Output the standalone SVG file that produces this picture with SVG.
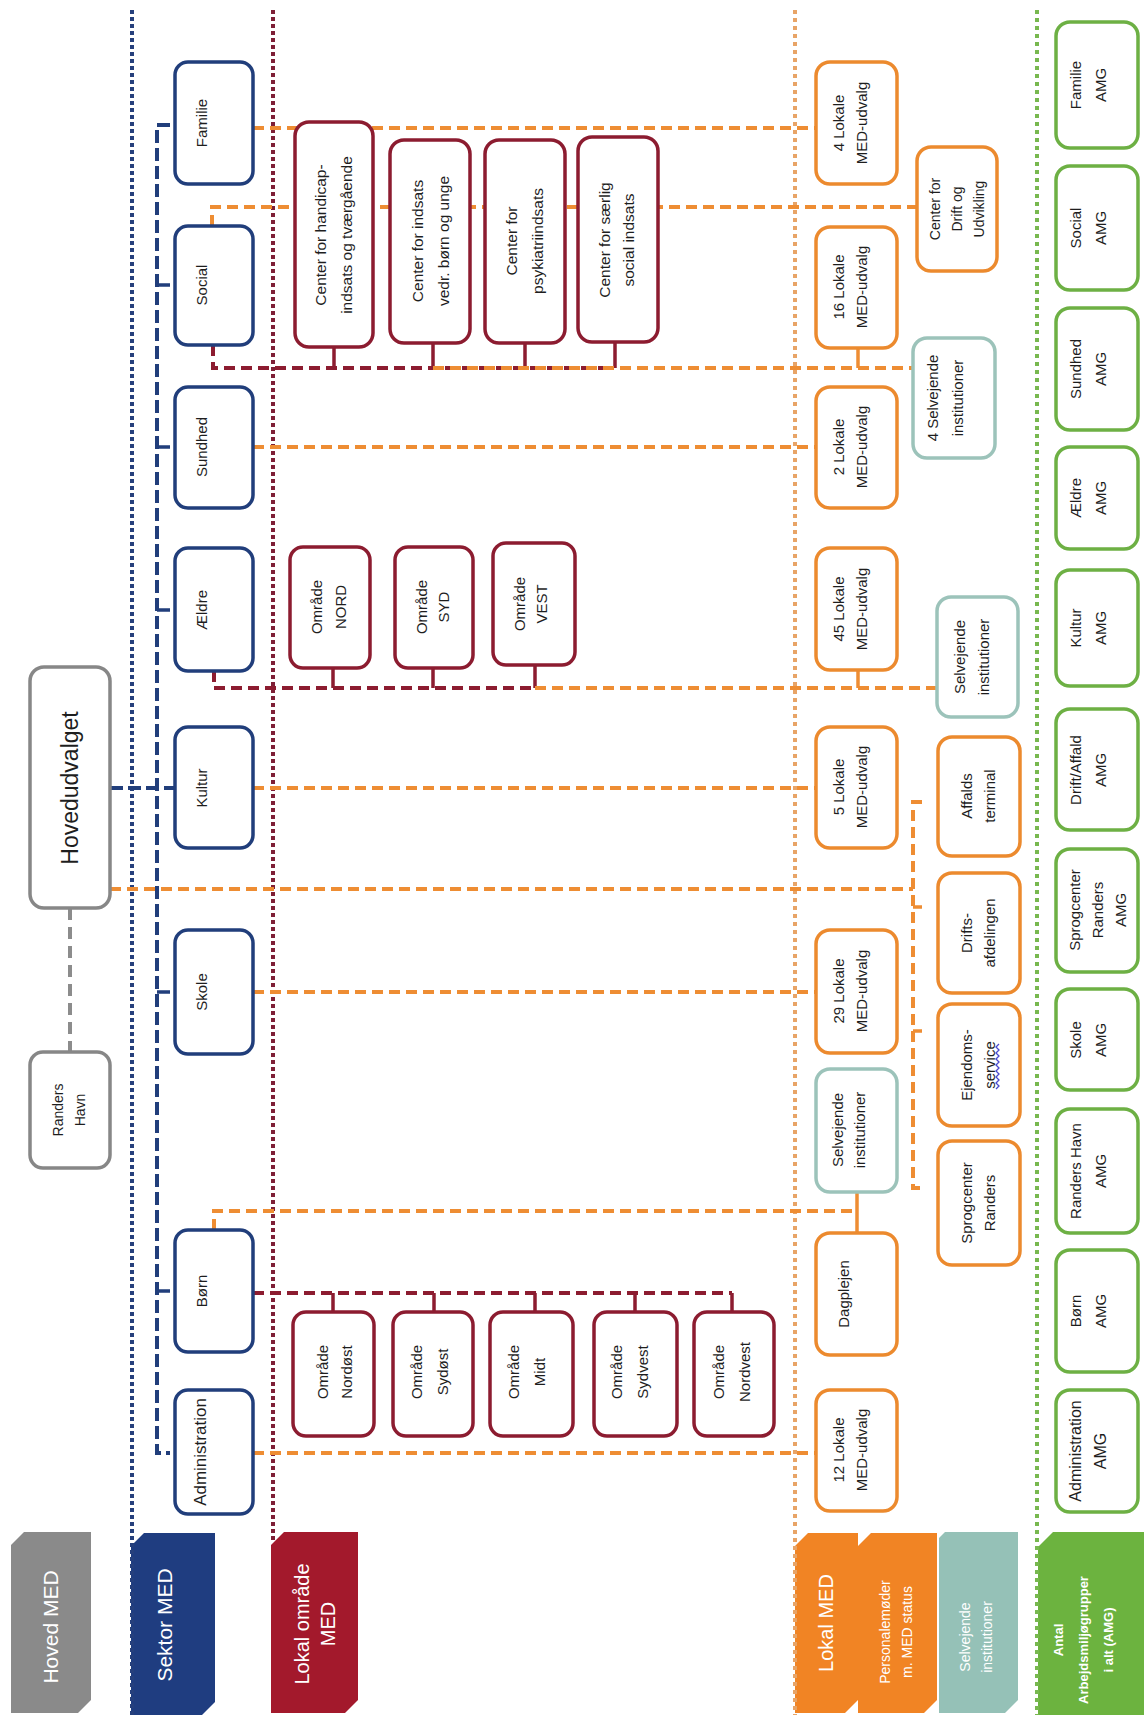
<svg xmlns="http://www.w3.org/2000/svg" width="1144" height="1720" viewBox="0 0 1144 1720">
<style>
.sb{fill:#fff;stroke:#213e7b;stroke-width:3.5}
.rb{fill:#fff;stroke:#8c1c30;stroke-width:3.5}
.ob{fill:#fff;stroke:#ec8a2e;stroke-width:3.5}
.tb{fill:#fff;stroke:#9cc3ba;stroke-width:3.5}
.gb{fill:#fff;stroke:#6db044;stroke-width:3.5}
.hb{fill:#fff;stroke:#878787;stroke-width:3.5}
.t{font-family:"Liberation Sans",Arial,sans-serif;font-size:15px;fill:#1e1e1e;text-anchor:middle;dominant-baseline:central}
.tc{font-size:15.5px}
.lt{font-family:"Liberation Sans",Arial,sans-serif;fill:#fff;text-anchor:middle;dominant-baseline:central}
.od{fill:none;stroke:#ee8d33;stroke-width:4;stroke-dasharray:11 6}
.md{fill:none;stroke:#8c1c30;stroke-width:4;stroke-dasharray:11 6}
.bd{fill:none;stroke:#213e7b;stroke-width:4;stroke-dasharray:13 5}
.gd{fill:none;stroke:#8c8c8c;stroke-width:4;stroke-dasharray:12 7}
.os{fill:none;stroke:#ee8d33;stroke-width:3.5}
.ms{fill:none;stroke:#8c1c30;stroke-width:3.5}
.bs{fill:none;stroke:#213e7b;stroke-width:3.5}
.cb{stroke:#26407c;stroke-width:4;stroke-dasharray:4 3}
.cm{stroke:#7e1f36;stroke-width:4;stroke-dasharray:4 3}
.co{stroke:#e8a467;stroke-width:4;stroke-dasharray:4 4}
.cg{stroke:#78b84f;stroke-width:4;stroke-dasharray:4 4}
</style>
<rect width="1144" height="1720" fill="#fff"/>

<g id="labels">
<g id="lbl-hoved"><path d="M24,1532 H91 V1700 L78,1713 H11 V1545 Z" fill="#8a8a8a"/><text class="lt" font-size="21" transform="translate(50,1627) rotate(-90)">Hoved MED</text></g>
<g id="lbl-sektor"><path d="M144,1533 H215 V1702 L202,1715 H131 V1546 Z" fill="#1f3d80"/><text class="lt" font-size="21" transform="translate(164,1625) rotate(-90)">Sektor MED</text></g>
<g id="lbl-lokalomr"><path d="M284,1532 H358 V1700 L345,1713 H271 V1545 Z" fill="#a3192c"/><text class="lt" font-size="20" transform="translate(315,1624) rotate(-90)"><tspan x="0" y="-13">Lokal område</tspan><tspan x="0" y="13">MED</tspan></text></g>
<g id="lbl-lokal"><path d="M808,1533 H858 V1700 L845,1713 H795 V1546 Z" fill="#f18424"/><text class="lt" font-size="20" transform="translate(826,1623) rotate(-90)">Lokal MED</text></g>
<g id="lbl-personale"><path d="M871,1533 H937 V1700 L924,1713 H858 V1546 Z" fill="#f18424"/><text class="lt" font-size="14" transform="translate(896,1632) rotate(-90)"><tspan x="0" y="-11">Personalemøder</tspan><tspan x="0" y="11">m. MED status</tspan></text></g>
<g id="lbl-selvejende"><path d="M945,1532 H1018 V1700 L1005,1713 H939 V1538 Z" fill="#95c1b7"/><text class="lt" font-size="14" transform="translate(976,1637) rotate(-90)"><tspan x="0" y="-11">Selvejende</tspan><tspan x="0" y="11">institutioner</tspan></text></g>
<g id="lbl-amg"><path d="M1053,1532 H1144 V1715 H1038 V1547 Z" fill="#6cb33f"/><text class="lt" font-size="13" font-weight="bold" transform="translate(1083,1640) rotate(-90)"><tspan x="0" y="-25">Antal</tspan><tspan x="0" y="0">Arbejdsmiljøgrupper</tspan><tspan x="0" y="25">i alt (AMG)</tspan></text></g>
</g>

<g id="columns">
<line class="cb" x1="132" y1="10" x2="132" y2="1715"/>
<line class="cm" x1="273" y1="10" x2="273" y2="1540"/>
<line class="co" x1="795" y1="10" x2="795" y2="1715"/>
<line class="cg" x1="1037" y1="10" x2="1037" y2="1715"/>
</g>

<g id="connectors">
<path class="gd" d="M70,908 V1052"/>
<path class="bd" d="M170,125 H157 V1453 H170"/>
<path class="bd" d="M110,788 H175"/>
<path class="bs" d="M157,285 H170 M157,447 H170 M157,610 H170 M157,992 H170 M157,1291 H170"/>
<path class="od" d="M253,128 H816"/>
<path class="od" d="M212,226 V207 H917"/>
<path class="md" d="M213,345 V368 H615"/>
<path class="ms" d="M334,347 V368 M433,343 V368 M525,343 V368 M615,342 V368"/>
<path class="od" d="M433,368 H913"/>
<path class="os" d="M858,348 V368"/>
<path class="od" d="M253,447 H817"/>
<path class="md" d="M214,671 V688 H535"/>
<path class="ms" d="M333,668 V688 M433,668 V688 M535,665 V688"/>
<path class="od" d="M535,688 H937"/>
<path class="os" d="M858,670 V688"/>
<path class="od" d="M253,788 H816"/>
<path class="od" d="M110,889 H913"/>
<path class="od" d="M922,802 H913 V1188 H922"/>
<path class="os" d="M913,907 H922 M913,1031 H922"/>
<path class="od" d="M253,992 H816"/>
<path class="od" d="M214,1230 V1211 H857"/>
<path class="os" d="M857,1192 V1233"/>
<path class="md" d="M253,1293 H732"/>
<path class="ms" d="M333,1293 V1312 M434,1293 V1312 M535,1293 V1312 M635,1293 V1312 M732,1293 V1312"/>
<path class="od" d="M253,1453 H816"/>
</g>

<g id="n-hovedudvalget"><rect class="hb" x="30" y="667" width="80" height="241" rx="14"/><text class="t" style="font-size:23px" transform="translate(70,788) rotate(-90)">Hovedudvalget</text></g>
<g id="n-randershavn"><rect class="hb" x="30" y="1052" width="80" height="116" rx="13"/><text class="t" style="font-size:14px" transform="translate(69,1110) rotate(-90)"><tspan x="0" y="-11">Randers</tspan><tspan x="0" y="11">Havn</tspan></text></g>

<g id="n-familie"><rect class="sb" x="175" y="62" width="78" height="122" rx="13"/><text class="t" transform="translate(201,123) rotate(-90)">Familie</text></g>
<g id="n-social"><rect class="sb" x="175" y="226" width="78" height="119" rx="13"/><text class="t" transform="translate(201,285) rotate(-90)">Social</text></g>
<g id="n-sundhed"><rect class="sb" x="175" y="387" width="78" height="121" rx="13"/><text class="t" transform="translate(201,447) rotate(-90)">Sundhed</text></g>
<g id="n-aeldre"><rect class="sb" x="175" y="548" width="78" height="123" rx="13"/><text class="t" transform="translate(201,610) rotate(-90)">Ældre</text></g>
<g id="n-kultur"><rect class="sb" x="175" y="727" width="78" height="121" rx="13"/><text class="t" transform="translate(201,788) rotate(-90)">Kultur</text></g>
<g id="n-skole"><rect class="sb" x="175" y="930" width="78" height="124" rx="13"/><text class="t" transform="translate(201,992) rotate(-90)">Skole</text></g>
<g id="n-boern"><rect class="sb" x="175" y="1230" width="78" height="122" rx="13"/><text class="t" transform="translate(201,1291) rotate(-90)">Børn</text></g>
<g id="n-admin"><rect class="sb" x="175" y="1390" width="78" height="124" rx="13"/><text class="t" style="font-size:17px" transform="translate(200,1452) rotate(-90)">Administration</text></g>

<g id="n-c-handicap"><rect class="rb" x="295" y="122" width="78" height="225" rx="14"/><text class="t tc" transform="translate(333,235) rotate(-90)"><tspan x="0" y="-13">Center for handicap-</tspan><tspan x="0" y="13">indsats og tværgående</tspan></text></g>
<g id="n-c-boernunge"><rect class="rb" x="390" y="140" width="80" height="203" rx="14"/><text class="t tc" transform="translate(430,241) rotate(-90)"><tspan x="0" y="-13">Center for indsats</tspan><tspan x="0" y="13">vedr. børn og unge</tspan></text></g>
<g id="n-c-psyk"><rect class="rb" x="485" y="140" width="80" height="203" rx="14"/><text class="t tc" transform="translate(524,241) rotate(-90)"><tspan x="0" y="-13">Center for</tspan><tspan x="0" y="13">psykiatriindsats</tspan></text></g>
<g id="n-c-saerlig"><rect class="rb" x="578" y="137" width="80" height="205" rx="14"/><text class="t tc" transform="translate(616,240) rotate(-90)"><tspan x="0" y="-12">Center for særlig</tspan><tspan x="0" y="12">social indsats</tspan></text></g>

<g id="n-o-nord"><rect class="rb" x="290" y="547" width="80" height="121" rx="13"/><text class="t" transform="translate(328,607) rotate(-90)"><tspan x="0" y="-12">Område</tspan><tspan x="0" y="12">NORD</tspan></text></g>
<g id="n-o-syd"><rect class="rb" x="395" y="547" width="78" height="121" rx="13"/><text class="t" transform="translate(432,607) rotate(-90)"><tspan x="0" y="-11">Område</tspan><tspan x="0" y="11">SYD</tspan></text></g>
<g id="n-o-vest"><rect class="rb" x="493" y="543" width="82" height="122" rx="13"/><text class="t" transform="translate(530,604) rotate(-90)"><tspan x="0" y="-11">Område</tspan><tspan x="0" y="11">VEST</tspan></text></g>

<g id="n-o-nordoest"><rect class="rb" x="293" y="1312" width="81" height="124" rx="13"/><text class="t" transform="translate(334,1372) rotate(-90)"><tspan x="0" y="-12">Område</tspan><tspan x="0" y="12">Nordøst</tspan></text></g>
<g id="n-o-sydoest"><rect class="rb" x="393" y="1312" width="80" height="124" rx="13"/><text class="t" transform="translate(429,1372) rotate(-90)"><tspan x="0" y="-13">Område</tspan><tspan x="0" y="13">Sydøst</tspan></text></g>
<g id="n-o-midt"><rect class="rb" x="490" y="1312" width="83" height="124" rx="13"/><text class="t" transform="translate(526,1372) rotate(-90)"><tspan x="0" y="-13">Område</tspan><tspan x="0" y="13">Midt</tspan></text></g>
<g id="n-o-sydvest"><rect class="rb" x="594" y="1312" width="83" height="124" rx="13"/><text class="t" transform="translate(629,1372) rotate(-90)"><tspan x="0" y="-13">Område</tspan><tspan x="0" y="13">Sydvest</tspan></text></g>
<g id="n-o-nordvest"><rect class="rb" x="694" y="1312" width="80" height="124" rx="13"/><text class="t" transform="translate(731,1372) rotate(-90)"><tspan x="0" y="-13">Område</tspan><tspan x="0" y="13">Nordvest</tspan></text></g>

<g id="n-l4"><rect class="ob" x="816" y="62" width="81" height="122" rx="14"/><text class="t" transform="translate(849,123) rotate(-90)"><tspan x="0" y="-11.5">4 Lokale</tspan><tspan x="0" y="11.5">MED-udvalg</tspan></text></g>
<g id="n-l16"><rect class="ob" x="816" y="227" width="81" height="121" rx="14"/><text class="t" transform="translate(849,287) rotate(-90)"><tspan x="0" y="-11.5">16 Lokale</tspan><tspan x="0" y="11.5">MED-udvalg</tspan></text></g>
<g id="n-l2"><rect class="ob" x="816" y="387" width="81" height="121" rx="14"/><text class="t" transform="translate(849,447) rotate(-90)"><tspan x="0" y="-11.5">2 Lokale</tspan><tspan x="0" y="11.5">MED-udvalg</tspan></text></g>
<g id="n-l45"><rect class="ob" x="816" y="548" width="81" height="122" rx="14"/><text class="t" transform="translate(849,609) rotate(-90)"><tspan x="0" y="-11.5">45 Lokale</tspan><tspan x="0" y="11.5">MED-udvalg</tspan></text></g>
<g id="n-l5"><rect class="ob" x="816" y="727" width="81" height="121" rx="14"/><text class="t" transform="translate(849,787) rotate(-90)"><tspan x="0" y="-11.5">5 Lokale</tspan><tspan x="0" y="11.5">MED-udvalg</tspan></text></g>
<g id="n-l29"><rect class="ob" x="816" y="930" width="81" height="123" rx="14"/><text class="t" transform="translate(849,991) rotate(-90)"><tspan x="0" y="-11.5">29 Lokale</tspan><tspan x="0" y="11.5">MED-udvalg</tspan></text></g>
<g id="n-selv-skole"><rect class="tb" x="816" y="1069" width="81" height="123" rx="14"/><text class="t" transform="translate(848,1130) rotate(-90)"><tspan x="0" y="-11">Selvejende</tspan><tspan x="0" y="11">institutioner</tspan></text></g>
<g id="n-dagplejen"><rect class="ob" x="816" y="1233" width="81" height="122" rx="14"/><text class="t" transform="translate(843,1294) rotate(-90)">Dagplejen</text></g>
<g id="n-l12"><rect class="ob" x="816" y="1390" width="81" height="121" rx="14"/><text class="t" transform="translate(849,1450) rotate(-90)"><tspan x="0" y="-11.5">12 Lokale</tspan><tspan x="0" y="11.5">MED-udvalg</tspan></text></g>

<g id="n-drift-udv"><rect class="ob" x="917" y="147" width="80" height="124" rx="14"/><text class="t" style="font-size:14px" transform="translate(957,209) rotate(-90)"><tspan x="0" y="-22">Center for</tspan><tspan x="0" y="0">Drift og</tspan><tspan x="0" y="22">Udvikling</tspan></text></g>
<g id="n-selv4"><rect class="tb" x="913" y="338" width="82" height="120" rx="14"/><text class="t" transform="translate(944,398) rotate(-90)"><tspan x="0" y="-12.5">4 Selvejende</tspan><tspan x="0" y="12.5">institutioner</tspan></text></g>
<g id="n-selv-aeldre"><rect class="tb" x="937" y="597" width="81" height="120" rx="14"/><text class="t" transform="translate(971,657) rotate(-90)"><tspan x="0" y="-12">Selvejende</tspan><tspan x="0" y="12">institutioner</tspan></text></g>
<g id="n-affald"><rect class="ob" x="938" y="737" width="82" height="119" rx="14"/><text class="t" transform="translate(977,796) rotate(-90)"><tspan x="0" y="-11.5">Affalds</tspan><tspan x="0" y="11.5">terminal</tspan></text></g>
<g id="n-drifts"><rect class="ob" x="938" y="873" width="82" height="120" rx="14"/><text class="t" transform="translate(977,933) rotate(-90)"><tspan x="0" y="-11.5">Drifts-</tspan><tspan x="0" y="11.5">afdelingen</tspan></text></g>
<g id="n-ejendom"><rect class="ob" x="938" y="1004" width="82" height="122" rx="14"/><text class="t" transform="translate(977,1065) rotate(-90)"><tspan x="0" y="-11.5">Ejendoms-</tspan><tspan x="0" y="11.5">service</tspan></text><path d="M996,1089 l3,-3 l-3,-3 l3,-3 l-3,-3 l3,-3 l-3,-3 l3,-3 l-3,-3 l3,-3 l-3,-3 l3,-3 l-3,-3 l3,-3 l-3,-3 l3,-3" fill="none" stroke="#4a4ad0" stroke-width="1.3"/></g>
<g id="n-sprog"><rect class="ob" x="938" y="1141" width="82" height="124" rx="14"/><text class="t" transform="translate(977,1203) rotate(-90)"><tspan x="0" y="-11.5">Sprogcenter</tspan><tspan x="0" y="11.5">Randers</tspan></text></g>

<g id="n-amg-familie"><rect class="gb" x="1056" y="22" width="82" height="126" rx="14"/><text class="t" transform="translate(1087,85) rotate(-90)"><tspan x="0" y="-12.5">Familie</tspan><tspan x="0" y="12.5">AMG</tspan></text></g>
<g id="n-amg-social"><rect class="gb" x="1056" y="166" width="82" height="124" rx="14"/><text class="t" transform="translate(1087,228) rotate(-90)"><tspan x="0" y="-12.5">Social</tspan><tspan x="0" y="12.5">AMG</tspan></text></g>
<g id="n-amg-sundhed"><rect class="gb" x="1056" y="308" width="82" height="122" rx="14"/><text class="t" transform="translate(1087,369) rotate(-90)"><tspan x="0" y="-12.5">Sundhed</tspan><tspan x="0" y="12.5">AMG</tspan></text></g>
<g id="n-amg-aeldre"><rect class="gb" x="1056" y="447" width="82" height="102" rx="14"/><text class="t" transform="translate(1087,498) rotate(-90)"><tspan x="0" y="-12.5">Ældre</tspan><tspan x="0" y="12.5">AMG</tspan></text></g>
<g id="n-amg-kultur"><rect class="gb" x="1056" y="570" width="82" height="116" rx="14"/><text class="t" transform="translate(1087,628) rotate(-90)"><tspan x="0" y="-12.5">Kultur</tspan><tspan x="0" y="12.5">AMG</tspan></text></g>
<g id="n-amg-drift"><rect class="gb" x="1056" y="709" width="82" height="121" rx="14"/><text class="t" transform="translate(1087,770) rotate(-90)"><tspan x="0" y="-12.5">Drift/Affald</tspan><tspan x="0" y="12.5">AMG</tspan></text></g>
<g id="n-amg-sprog"><rect class="gb" x="1056" y="849" width="82" height="123" rx="14"/><text class="t" transform="translate(1097,910) rotate(-90)"><tspan x="0" y="-23">Sprogcenter</tspan><tspan x="0" y="0">Randers</tspan><tspan x="0" y="23">AMG</tspan></text></g>
<g id="n-amg-skole"><rect class="gb" x="1056" y="989" width="82" height="101" rx="14"/><text class="t" transform="translate(1087,1040) rotate(-90)"><tspan x="0" y="-12.5">Skole</tspan><tspan x="0" y="12.5">AMG</tspan></text></g>
<g id="n-amg-havn"><rect class="gb" x="1056" y="1109" width="82" height="124" rx="14"/><text class="t" transform="translate(1087,1171) rotate(-90)"><tspan x="0" y="-12.5">Randers Havn</tspan><tspan x="0" y="12.5">AMG</tspan></text></g>
<g id="n-amg-boern"><rect class="gb" x="1056" y="1250" width="82" height="122" rx="14"/><text class="t" transform="translate(1087,1311) rotate(-90)"><tspan x="0" y="-12.5">Børn</tspan><tspan x="0" y="12.5">AMG</tspan></text></g>
<g id="n-amg-admin"><rect class="gb" x="1056" y="1390" width="82" height="122" rx="14"/><text class="t" style="font-size:16px" transform="translate(1087,1451) rotate(-90)"><tspan x="0" y="-12.5">Administration</tspan><tspan x="0" y="12.5">AMG</tspan></text></g>
</svg>
